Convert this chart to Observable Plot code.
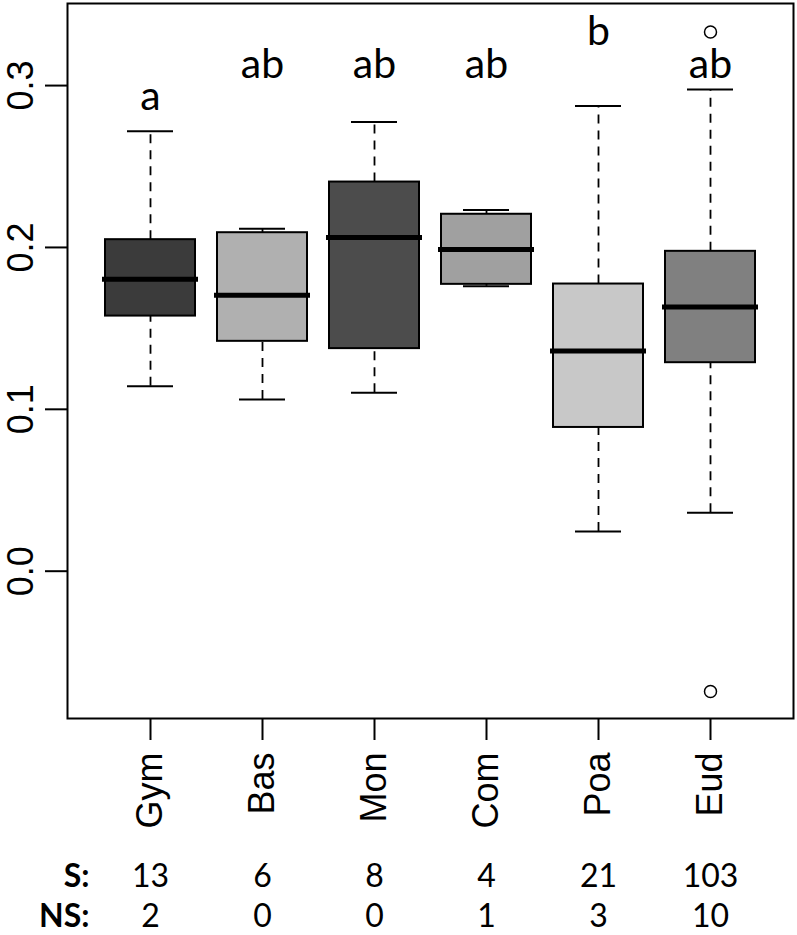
<!DOCTYPE html>
<html><head><meta charset="utf-8">
<script src="https://cdn.jsdelivr.net/npm/d3@7"></script>
<script src="https://cdn.jsdelivr.net/npm/@observablehq/plot@0.6"></script>
<style>body{margin:0;background:#fff} svg{display:block}</style>
</head><body><div id="chart"></div>
<script>
const groups = ["Gym","Bas","Mon","Com","Poa","Eud"];
const whiskerLow = [0.1143,0.1061,0.1103,0.1760,0.0245,0.0361];
const q1 = [0.1576,0.1420,0.1375,0.1772,0.0888,0.1288];
const median = [0.1803,0.1704,0.2061,0.1988,0.1360,0.1632];
const q3 = [0.2048,0.2091,0.2404,0.2205,0.1774,0.1976];
const whiskerHigh = [0.2718,0.2116,0.2775,0.2231,0.2874,0.2975];
const fills = ["#3b3b3b","#b0b0b0","#4c4c4c","#a0a0a0","#c8c8c8","#808080"];
const letters = ["a","ab","ab","ab","b","ab"];
const letterY = [0.2847,0.3045,0.3045,0.3045,0.3249,0.3045];
const outlierGroup = ["Eud","Eud"];
const outlierValue = [0.3331,-0.0743];
const sCounts = [13,6,8,4,21,103];
const nsCounts = [2,0,0,1,3,10];
const yTicks = [0,0.1,0.2,0.3];

const boxes = groups.map((g,i)=>({group:g, lo:whiskerLow[i], q1:q1[i], med:median[i], q3:q3[i], hi:whiskerHigh[i], fill:fills[i], letter:letters[i], ly:letterY[i], s:sCounts[i], ns:nsCounts[i]}));
const outliers = outlierGroup.map((g,i)=>({group:g, value:outlierValue[i]}));

const labelFont = "Lato";
const chart = Plot.plot({
  width: 797, height: 935,
  marginTop: 3, marginBottom: 217, marginLeft: 67, marginRight: 4,
  style: {fontFamily: "Liberation Sans", background: "#fff", color: "#000"},
  x: {type: "band", domain: groups, paddingInner: 0.2, paddingOuter: 0.34, label: null},
  y: {domain: [-0.0910, 0.3507], label: null},
  color: {type: "identity"},
  marks: [
    Plot.ruleX(boxes, {x: "group", y1: "q3", y2: "hi", stroke: "#000", strokeWidth: 1.8, strokeDasharray: "9,7"}),
    Plot.ruleX(boxes, {x: "group", y1: "lo", y2: "q1", stroke: "#000", strokeWidth: 1.8, strokeDasharray: "9,7"}),
    Plot.tickY(boxes, {x: "group", y: "hi", insetLeft: 22, insetRight: 22, stroke: "#000", strokeWidth: 2}),
    Plot.tickY(boxes, {x: "group", y: "lo", insetLeft: 22, insetRight: 22, stroke: "#000", strokeWidth: 2}),
    Plot.barY(boxes, {x: "group", y1: "q1", y2: "q3", fill: "fill", stroke: "#000", strokeWidth: 2}),
    Plot.tickY(boxes, {x: "group", y: "med", insetLeft: -3, insetRight: -3, stroke: "#000", strokeWidth: 5}),
    Plot.dot(outliers, {x: "group", y: "value", r: 6, stroke: "#000", fill: "#fff", strokeWidth: 1.5}),
    Plot.text(boxes, {x: "group", y: "ly", text: "letter", lineAnchor: "bottom", fontSize: 41, fontFamily: labelFont, fill: "#000"}),
    Plot.frame({stroke: "#000", strokeWidth: 2}),
    Plot.axisY({ticks: yTicks, tickFormat: d3.format(".1f"), tickSize: 22, tickPadding: 13, tickRotate: -90, fontSize: 36, strokeWidth: 2, label: null}),
    Plot.axisX({tickSize: 22, tickPadding: 12, tickRotate: -90, fontSize: 36, strokeWidth: 2, label: null}),
    Plot.text(boxes, {x: "group", text: "s", frameAnchor: "bottom", lineAnchor: "bottom", dy: 168, fontSize: 32, fontFamily: labelFont, fill: "#000"}),
    Plot.text(boxes, {x: "group", text: "ns", frameAnchor: "bottom", lineAnchor: "bottom", dy: 208, fontSize: 32, fontFamily: labelFont, fill: "#000"}),
    Plot.text(["S:"], {text: d => d, frameAnchor: "bottom-left", textAnchor: "end", lineAnchor: "bottom", dx: 22, dy: 168, fontSize: 32, fontWeight: "bold", fontFamily: labelFont, fill: "#000"}),
    Plot.text(["NS:"], {text: d => d, frameAnchor: "bottom-left", textAnchor: "end", lineAnchor: "bottom", dx: 22, dy: 208, fontSize: 32, fontWeight: "bold", fontFamily: labelFont, fill: "#000"})
  ]
});
document.getElementById("chart").append(chart);
</script>
</body></html>
